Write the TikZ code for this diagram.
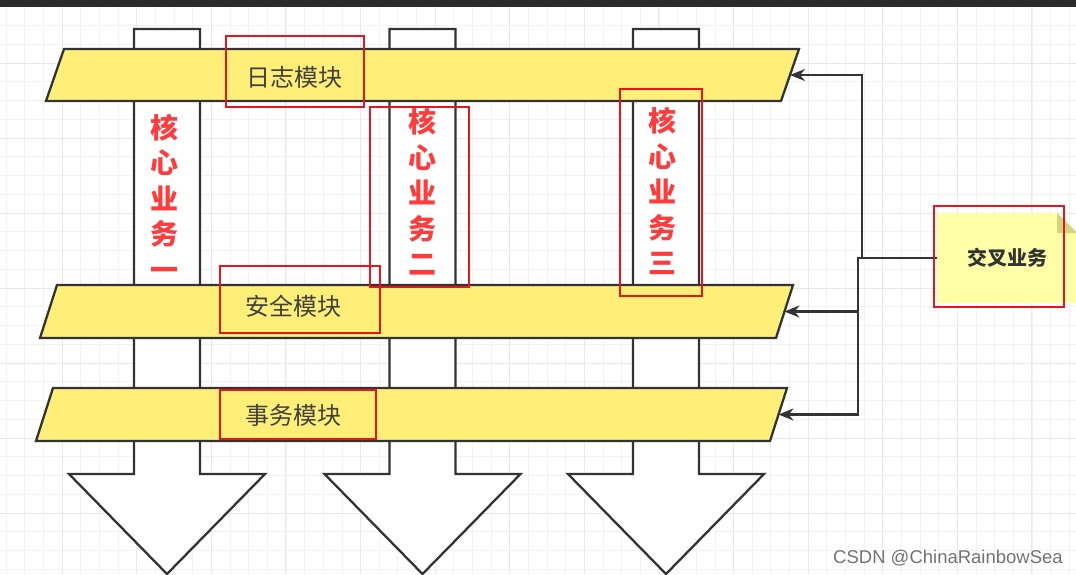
\documentclass[tikz,border=0pt]{standalone}
\usepackage{fontspec}
\setmainfont{Noto Sans CJK SC}
\newfontfamily\wmfont{Liberation Sans}
\usepackage{tikz}
\usetikzlibrary{arrows.meta,calc}

\definecolor{bandyellow}{HTML}{FFEF78}
\definecolor{notefill}{HTML}{FFFFA8}
\definecolor{notefold}{HTML}{D4D47E}
\definecolor{edgegray}{HTML}{333333}
\definecolor{markred}{HTML}{E8141E}
\definecolor{corered}{HTML}{FF3B3B}
\definecolor{gridminor}{HTML}{F3F3F3}
\definecolor{gridmajor}{HTML}{E8E8E8}

\begin{document}
\begin{tikzpicture}[x=1pt, y=-1pt,
  outline/.style={draw=edgegray, line width=2.3pt, line join=miter},
  band/.style={outline, fill=bandyellow},
  column/.style={outline, fill=white},
  bandtext/.style={font=\fontsize{24}{24}\selectfont, text=black!75},
  coretext/.style={font=\fontsize{28}{35.5}\selectfont\bfseries, text=corered, align=center},
  crosstext/.style={font=\fontsize{20}{20}\selectfont\bfseries, text=edgegray,
    minimum width=140pt, minimum height=90pt},
  marker/.style={draw=markred, line width=2pt},
  link/.style={draw=edgegray, line width=2.2pt, -{Stealth[length=15pt, width=12pt]}}
]
\newcommand{\Shaft}{33}; % half width of a column
\newcommand{\Head}{98}; % half width of an arrow head
\newcommand{\Neck}{474}; % where the heads start

\useasboundingbox (0,0) rectangle (1076,574);
\clip (0,0) rectangle (1076,574);
\fill[white] (0,0) rectangle (1076,574);

% grid
\foreach \i in {0,...,57} \draw[gridminor, line width=0.8pt] ({6.2+18.65*\i},7) -- ({6.2+18.65*\i},574);
\foreach \i in {0,...,30} \draw[gridminor, line width=0.8pt] (0,{6.75+18.75*\i}) -- (1076,{6.75+18.75*\i});
\foreach \i in {0,...,13} \draw[gridmajor, line width=0.8pt] ({62+74.6*\i},7) -- ({62+74.6*\i},574);
\foreach \i in {0,...,6} \draw[gridmajor, line width=0.8pt] (0,{63+75*\i}) -- (1076,{63+75*\i});

\fill[black!83] (0,0) rectangle (1076,7);

% core columns
\foreach \cx in {167, 422.5, 666} {
  \draw[column] ({\cx-\Shaft},29) -- ({\cx+\Shaft},29) -- ({\cx+\Shaft},\Neck) -- ({\cx+\Head},\Neck)
    -- (\cx,574) -- ({\cx-\Head},\Neck) -- ({\cx-\Shaft},\Neck) -- cycle;
}

% modules
\draw[band] (64,49) coordinate (logTL) -- (799,49) coordinate (logTR)
  -- (781,101) coordinate (logBR) -- (46,101) coordinate (logBL) -- cycle;
\draw[band] (57,285) coordinate (secTL) -- (793,285) coordinate (secTR)
  -- (776,338) coordinate (secBR) -- (40,338) coordinate (secBL) -- cycle;
\draw[band] (53,388) coordinate (txTL) -- (787,388) coordinate (txTR)
  -- (770,441) coordinate (txBR) -- (36,441) coordinate (txBL) -- cycle;
\coordinate (logR) at ($(logTR)!0.5!(logBR)$);
\coordinate (secR) at ($(secTR)!0.5!(secBR)$);
\coordinate (txR)  at ($(txTR)!0.5!(txBR)$);

\node[bandtext] (log) at (294,77) {日志模块};
\node[bandtext] (sec) at (293,306) {安全模块};
\node[bandtext] (tx)  at (293,415) {事务模块};

\node[coretext] (core1) at (164,197) {核\\心\\业\\务\\一};
\node[coretext] (core2) at (422,192) {核\\心\\业\\务\\二};
\node[coretext] (core3) at (662,191) {核\\心\\业\\务\\三};

% cross-cutting note
\fill[notefill] (937,213) -- (1057,213) -- (1077,233) -- (1077,303) -- (937,303) -- cycle;
\fill[notefold] (1057,213) -- (1077,233) -- (1057,233) -- cycle;
\node[crosstext] (cross) at (1007,258) {交叉业务};

\coordinate (J1) at (862,258);
\coordinate (J2) at (858,258);
\draw[link] (cross.west) -- (J1) |- (logR);
\draw[link] (cross.west) -- (J2) |- (secR);
\draw[link] (cross.west) -- (J2) |- (txR);

% red marks
\draw[marker] (225.5,36) rectangle (364,106.5);
\draw[marker] (369.5,106.5) rectangle (469,287);
\draw[marker] (620,89) rectangle (702,296);
\draw[marker] (220,266) rectangle (380,333);
\draw[marker] (220,390) rectangle (375.5,439);
\draw[marker] (934,205.5) rectangle (1064,307);

\node[font=\wmfont\fontsize{18.5}{18.5}\selectfont, text=black!55, anchor=base west, inner sep=0pt]
  (mark) at (833,563) {CSDN @ChinaRainbowSea};
\end{tikzpicture}
\end{document}
